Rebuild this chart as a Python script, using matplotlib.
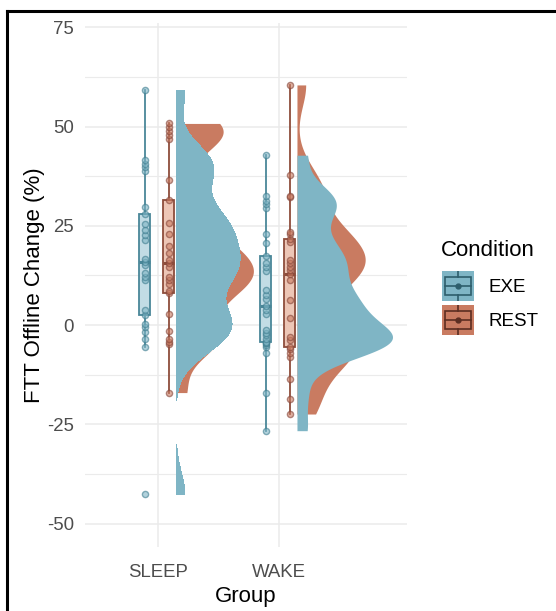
import numpy as np
import matplotlib
matplotlib.use("Agg")
import matplotlib.pyplot as plt
from matplotlib.lines import Line2D
from matplotlib.patches import Rectangle

# ---------------- data ----------------
groups = ["SLEEP", "WAKE"]
conditions = ["EXE", "REST"]

sleep_exe = [-42.6, -5.6, -3.4, -1.7, -0.6, 0.4, 2.5, 3.8, 11.3, 12.2, 13.0, 15.2,
             15.9, 16.6, 21.4, 22.7, 23.9, 25.5, 28.1, 29.8, 38.9, 39.7, 40.7, 41.6, 59.2]
sleep_rest = [-17.0, -4.8, -4.2, -3.6, -1.4, 2.8, 8.2, 8.6, 10.3, 11.3, 12.2, 14.7,
              15.7, 16.4, 18.1, 20.0, 22.9, 25.6, 31.5, 36.5, 46.8, 47.9, 48.9, 49.9, 50.8]
wake_exe = [-26.6, -17.0, -7.1, -5.6, -5.0, -4.6, -4.4, -4.2, -3.4, -2.6, -1.9, -1.3,
            2.9, 3.8, 4.9, 6.5, 7.6, 8.8, 13.7, 14.7, 15.7, 17.4, 20.6, 22.9, 29.6,
            30.5, 31.3, 32.5, 42.8]
wake_rest = [-22.4, -18.5, -13.6, -8.0, -7.1, -6.0, -5.5, -3.8, -2.9, 1.7, 6.3, 11.3,
             12.8, 13.9, 14.7, 15.7, 16.4, 21.0, 21.6, 22.9, 23.5, 32.2, 32.5, 37.8, 60.5]

data = {("SLEEP", "EXE"): sleep_exe, ("SLEEP", "REST"): sleep_rest,
        ("WAKE", "EXE"): wake_exe, ("WAKE", "REST"): wake_rest}
y_ticks = [-50, -25, 0, 25, 50, 75]
y_minor = [-37.5, -12.5, 12.5, 37.5, 62.5]

# ---------------- style ----------------
W, H = 556, 611
fill_col = {"EXE": "#7FB5C5", "REST": "#C97B61"}
box_fill = {"EXE": "#C2DCE5", "REST": "#EDC6B6"}
edge_col = {"EXE": "#4A8799", "REST": "#8E4D3C"}
pt_edge = {"EXE": "#3F7D8F", "REST": "#85463A"}
key_glyph = {"EXE": "#2E5E6C", "REST": "#5C2E22"}
box_off = {"EXE": -0.11, "REST": 0.09}
box_w = 0.09
viol_off = 0.15
viol_maxw = 0.79
bw_adjust = 0.6
grid_col = "#EBEBEB"
tick_col = "#4D4D4D"
xlim = (0.397, 3.06)
ax_w_px = 322
px_per_unit = ax_w_px / (xlim[1] - xlim[0])

plt.rcParams['font.family'] = ['Liberation Sans', 'DejaVu Sans']

fig = plt.figure(figsize=(W / 100, H / 100), dpi=100)
ax = fig.add_axes([85 / W, 1 - 547 / H, ax_w_px / W, 524 / H])
ax.set_xlim(*xlim)
ax.set_ylim(-55.9, 76.1)


def kde(vals, grid, bw):
    v = np.asarray(vals)[:, None]
    return np.exp(-0.5 * ((grid[None, :] - v) / bw) ** 2).sum(0) / (len(vals) * bw * np.sqrt(2 * np.pi))


def nrd0(vals):
    v = np.asarray(vals)
    iqr = np.subtract(*np.percentile(v, [75, 25]))
    s = min(np.std(v, ddof=1), iqr / 1.34)
    return 0.9 * s * len(v) ** -0.2


dens = {}
for key, vals in data.items():
    g = np.linspace(min(vals), max(vals), 512)
    dens[key] = (g, kde(vals, g, nrd0(vals) * bw_adjust))
dmax = max(d.max() for _, d in dens.values())

# grid
for t in y_ticks:
    ax.axhline(t, color=grid_col, lw=1.1, zorder=0)
for t in y_minor:
    ax.axhline(t, color=grid_col, lw=0.8, zorder=0)
for i in range(len(groups)):
    ax.axvline(i + 1, color=grid_col, lw=1.1, zorder=0)

# violins (REST under EXE); sub-pixel slivers are not rendered
for gi, g in enumerate(groups):
    x0 = gi + 1 + viol_off
    for c in ["REST", "EXE"]:
        yy, d = dens[(g, c)]
        wdt = d / dmax * viol_maxw
        ax.fill_betweenx(yy, x0, x0 + wdt, where=wdt * px_per_unit >= 0.6,
                         color=fill_col[c], lw=0, antialiased=False,
                         zorder=1 if c == "REST" else 2)

# boxplots and points
for gi, g in enumerate(groups):
    for c in conditions:
        vals = data[(g, c)]
        xc = gi + 1 + box_off[c]
        ax.boxplot([vals], positions=[xc], widths=box_w, whis=1.5, showfliers=False,
                   patch_artist=True, manage_ticks=False, zorder=3,
                   boxprops=dict(facecolor=box_fill[c], edgecolor=edge_col[c], lw=1.3),
                   whiskerprops=dict(color=edge_col[c], lw=1.3),
                   capprops=dict(lw=0),
                   medianprops=dict(color=edge_col[c], lw=2.2))
        ax.scatter(np.full(len(vals), xc), vals, s=20, facecolor=fill_col[c],
                   edgecolor=pt_edge[c], alpha=0.6, lw=1.0, zorder=4)

# axes styling
for s in ax.spines.values():
    s.set_visible(False)
ax.set_yticks(y_ticks)
ax.set_yticklabels([str(t) for t in y_ticks])
ax.set_xticks([1, 2])
ax.set_xticklabels(groups)
ax.tick_params(axis='both', length=0, labelsize=13.4, colors=tick_col)
ax.tick_params(axis='y', pad=8)
ax.tick_params(axis='x', pad=12)
ax.set_xlabel("Group", fontsize=16, color="black", labelpad=4)
ax.set_ylabel("FTT Offline Change (%)", fontsize=16, color="black", labelpad=1)

# legend
fig.text(441 / W, 1 - 250 / H, "Condition", fontsize=16, va="center", ha="left")
for i, c in enumerate(conditions):
    top = 271 + i * 34
    kax = fig.add_axes([442 / W, 1 - (top + 30) / H, 32 / W, 30 / H])
    kax.set_xlim(0, 1)
    kax.set_ylim(0, 1)
    kax.axis("off")
    kax.add_patch(Rectangle((0, 0), 1, 1, facecolor=fill_col[c], edgecolor="none"))
    kax.plot([0.5, 0.5], [0.0, 0.2], color=key_glyph[c], lw=1.2)
    kax.plot([0.5, 0.5], [0.8, 1.0], color=key_glyph[c], lw=1.2)
    kax.add_patch(Rectangle((0.1, 0.2), 0.8, 0.6, facecolor="none",
                            edgecolor=key_glyph[c], lw=1.2))
    kax.plot([0.1, 0.9], [0.5, 0.5], color=key_glyph[c], lw=1.2)
    kax.plot([0.5], [0.5], "o", color=key_glyph[c], ms=3.5)
    fig.text(488 / W, 1 - (top + 16) / H, c, fontsize=13.5, va="center", ha="left")

# screenshot frame (top and left border)
fig.add_artist(Line2D([7 / W, 1.0], [1 - 11 / H, 1 - 11 / H], color="black", lw=2.2))
fig.add_artist(Line2D([7 / W, 7 / W], [0, 1 - 11 / H], color="black", lw=2.2))

fig.savefig("out.png", dpi=100)
